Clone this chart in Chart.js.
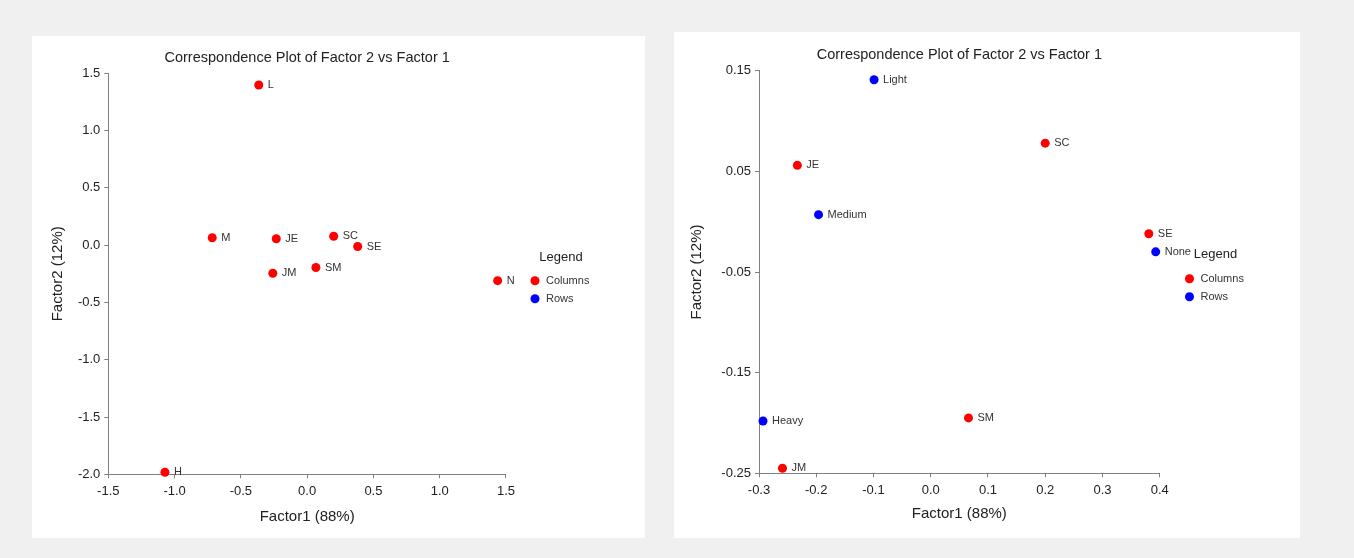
<!DOCTYPE html>
<html>
<head>
<meta charset="utf-8">
<script src="https://cdn.jsdelivr.net/npm/chart.js@4.4.1/dist/chart.umd.min.js"></script>
<style>
  body { margin: 0; background: #f0f0f0; width: 1354px; height: 558px; position: relative; overflow: hidden; }
  .panel { position: absolute; background: #fff; }
  #leftPanel { left: 32px; top: 36px; width: 613px; height: 502px; }
  #rightPanel { left: 674px; top: 32px; width: 626px; height: 506px; }
  canvas { display: block; }
</style>
</head>
<body>
<div class="panel" id="leftPanel"><canvas id="leftChart" width="613" height="502"></canvas></div>
<div class="panel" id="rightPanel"><canvas id="rightChart" width="626" height="506"></canvas></div>
<script>
// column profiles (same in both plots)
const colLabels = ["JE", "SC", "SE", "SM", "JM"];
const colX = [-0.233, 0.200, 0.381, 0.066, -0.259];
const colY = [0.056, 0.078, -0.012, -0.195, -0.245];

// row points of the left plot (drawn red there)
const leftRowLabels = ["L", "M", "N", "H"];
const leftRowX = [-0.365, -0.716, 1.437, -1.073];
const leftRowY = [1.398, 0.065, -0.310, -1.982];

// row points of the right plot
const rowLabels = ["Light", "Medium", "None", "Heavy"];
const rowX = [-0.099, -0.196, 0.393, -0.293];
const rowY = [0.141, 0.007, -0.030, -0.198];

// tick values
const leftXTicks = [-1.5, -1.0, -0.5, 0.0, 0.5, 1.0, 1.5];
const leftYTicks = [-2.0, -1.5, -1.0, -0.5, 0.0, 0.5, 1.0, 1.5];
const rightXTicks = [-0.3, -0.2, -0.1, 0.0, 0.1, 0.2, 0.3, 0.4];
const rightYTicks = [-0.25, -0.15, -0.05, 0.05, 0.15];

Chart.defaults.font.family = "'Liberation Sans', Arial, sans-serif";
Chart.defaults.color = "#222";

function toPoints(labels, xs, ys) {
	return labels.map((label, i) => ({ x: xs[i], y: ys[i], label: label }));
}

// writes the name next to every point
const pointLabels = {
	id: "pointLabels",
	afterDatasetsDraw(chart) {
		const ctx = chart.ctx;
		ctx.save();
		ctx.font = "11px 'Liberation Sans', Arial, sans-serif";
		ctx.fillStyle = "#333";
		ctx.textBaseline = "middle";
		chart.data.datasets.forEach((ds, i) => {
			chart.getDatasetMeta(i).data.forEach((pt, j) => {
				ctx.fillText(ds.data[j].label, pt.x + 9, pt.y);
			});
		});
		ctx.restore();
	},
};

function axis(ticks, extra) {
	return Object.assign({
		type: "linear",
		min: ticks[0],
		max: ticks[ticks.length - 1],
		afterBuildTicks: (s) => { s.ticks = ticks.map((v) => ({ value: v })); },
		grid: { drawOnChartArea: false, drawTicks: true, tickLength: 4, color: "#808080" },
		border: { color: "#808080", width: 1 },
	}, extra);
}

function makePlot(id, cfg) {
	return new Chart(document.getElementById(id), {
		type: "scatter",
		data: {
			datasets: [{
				label: "Columns",
				data: cfg.columns,
				backgroundColor: "#ff0000",
				borderColor: "#ff0000",
				borderWidth: 0,
				pointRadius: 4.5,
				pointHoverRadius: 4.5,
				pointBorderWidth: 0,
				clip: false,
			}, {
				label: "Rows",
				data: cfg.rows,
				backgroundColor: "#0000ff",
				borderColor: "#0000ff",
				borderWidth: 0,
				pointRadius: 4.5,
				pointHoverRadius: 4.5,
				pointBorderWidth: 0,
				clip: false,
			}],
		},
		options: {
			responsive: false,
			animation: false,
			events: [],
			layout: { padding: { top: 0, left: 0, bottom: 0, right: cfg.padRight } },
			plugins: {
				title: {
					display: true,
					text: "Correspondence Plot of Factor 2 vs Factor 1",
					fullSize: false,
					color: "#222",
					font: { size: 14.5, weight: "normal" },
					padding: cfg.titlePad,
				},
				legend: {
					position: "right",
					align: "start",
					fullSize: false,
					title: {
						display: true,
						text: "Legend",
						color: "#222",
						font: { size: 13 },
						padding: cfg.legendTitlePad,
					},
					labels: {
						usePointStyle: true,
						pointStyle: "circle",
						boxHeight: 6.4,
						padding: 7,
						color: "#333",
						font: { size: 11 },
					},
				},
				tooltip: { enabled: false },
			},
			scales: {
				x: axis(cfg.xTicks, {
					position: "bottom",
					ticks: { font: { size: 13 }, color: "#222", padding: 5, maxRotation: 0,
						callback: (v) => Number(v).toFixed(1) },
					title: { display: true, text: "Factor1 (88%)", font: { size: 15 }, color: "#222",
						padding: { top: 0, bottom: cfg.xTitleBottom } },
					afterFit: (s) => { s.height = cfg.xHeight; },
				}),
				y: axis(cfg.yTicks, {
					position: "left",
					ticks: { font: { size: 13 }, color: "#222", padding: 4,
						callback: (v) => Number(v).toFixed(cfg.yDecimals) },
					title: { display: true, text: "Factor2 (12%)", font: { size: 15 }, color: "#222",
						padding: { top: cfg.yTitleTop, bottom: 0 } },
					afterFit: (s) => { s.width = cfg.yWidth; },
				}),
				// empty space between the plot and the legend
				gap: {
					type: "linear",
					position: "right",
					grid: { display: false },
					border: { display: false },
					ticks: { display: false },
					afterFit: (s) => { s.width = cfg.gap; },
				},
			},
		},
		plugins: [pointLabels],
	});
}

makePlot("leftChart", {
	columns: toPoints(colLabels, colX, colY).concat(toPoints(leftRowLabels, leftRowX, leftRowY)),
	rows: [],
	xTicks: leftXTicks,
	yTicks: leftYTicks,
	yDecimals: 1,
	padRight: 45.6,
	gap: 16.5,
	yWidth: 76.3,
	xHeight: 63.7,
	titlePad: { top: 13.3, bottom: 6.6 },
	legendTitlePad: { top: 177.5, bottom: 1.8 },
	yTitleTop: 17,
	xTitleBottom: 12,
});

makePlot("rightChart", {
	columns: toPoints(colLabels, colX, colY),
	rows: toPoints(rowLabels, rowX, rowY),
	xTicks: rightXTicks,
	yTicks: rightYTicks,
	yDecimals: 2,
	padRight: 46.1,
	gap: 17.3,
	yWidth: 85,
	xHeight: 64.7,
	titlePad: { top: 14.3, bottom: 7.0 },
	legendTitlePad: { top: 176.8, bottom: 3.1 },
	yTitleTop: 14,
	xTitleBottom: 15,
});
</script>
</body>
</html>
